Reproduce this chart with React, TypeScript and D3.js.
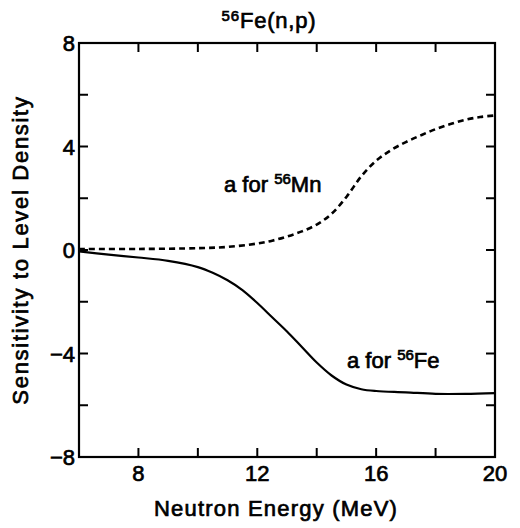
import * as d3 from "d3";

const W = 520, H = 528;
const M = { left: 79, right: 25, top: 43, bottom: 71 };

// a for 56Mn (dashed)
const mnEnergy = [6, 8, 10, 11, 12, 12.5, 13, 13.5, 14, 14.5, 15, 15.5, 16, 16.5, 17, 17.5, 18, 18.5, 19, 19.5, 20];
const mnSens = [0.04, 0.04, 0.07, 0.12, 0.25, 0.36, 0.52, 0.72, 0.98, 1.4, 2.05, 2.85, 3.45, 3.86, 4.17, 4.43, 4.67, 4.87, 5.03, 5.14, 5.2];

// a for 56Fe (solid)
const feEnergy = [6, 7, 8, 9, 10, 10.5, 11, 11.5, 12, 12.5, 13, 13.5, 14, 14.5, 15, 15.5, 16, 17, 18, 19, 20];
const feSens = [-0.05, -0.18, -0.29, -0.42, -0.66, -0.88, -1.17, -1.55, -2.05, -2.6, -3.15, -3.75, -4.35, -4.85, -5.2, -5.38, -5.45, -5.5, -5.56, -5.56, -5.53];

const xTicks = [6, 8, 10, 12, 14, 16, 18, 20];
const xLabels = [8, 12, 16, 20];
const yTicks = [-8, -6, -4, -2, 0, 2, 4, 6, 8];
const yLabels = [-8, -4, 0, 4, 8];

const FONT = "'Liberation Sans', Arial, Helvetica, sans-serif";

export default function App() {
  const x = d3.scaleLinear([6, 20], [M.left, W - M.right]);
  const y = d3.scaleLinear([-8, 8], [H - M.bottom, M.top]);

  const line = d3
    .line<[number, number]>()
    .x((d) => x(d[0]))
    .y((d) => y(d[1]))
    .curve(d3.curveCatmullRom.alpha(0.5));

  const mnPath = line(mnEnergy.map((e, i) => [e, mnSens[i]]))!;
  const fePath = line(feEnergy.map((e, i) => [e, feSens[i]]))!;

  const x0 = x(6), x1 = x(20), y0 = y(-8), y1 = y(8);
  const tickLen = 9;
  const txt = { fontFamily: FONT, fill: "#000", stroke: "#000", strokeWidth: 0.7 };

  return (
    <div style={{ position: "absolute", left: 0, top: 0 }}>
      <svg width={W} height={H} style={{ display: "block", background: "#fff" }}>
        {/* Title */}
        <text x={269} y={28} textAnchor="middle" fontSize={22} letterSpacing={0.8} {...txt}>
          <tspan fontSize={15} dy={-7}>56</tspan>
          <tspan dy={7}>Fe(n,p)</tspan>
        </text>

        {/* Curves */}
        <path d={mnPath} fill="none" stroke="#000" strokeWidth={2.6} strokeDasharray="6 4" />
        <path d={fePath} fill="none" stroke="#000" strokeWidth={2.2} />

        {/* Frame */}
        <rect x={x0} y={y1} width={x1 - x0} height={y0 - y1} fill="none" stroke="#000" strokeWidth={2.2} />

        {/* X ticks (bottom and top, inward) */}
        {xTicks.map((t) => (
          <g key={`x${t}`}>
            <line x1={x(t)} x2={x(t)} y1={y0} y2={y0 - tickLen} stroke="#000" strokeWidth={2} />
            <line x1={x(t)} x2={x(t)} y1={y1} y2={y1 + tickLen} stroke="#000" strokeWidth={2} />
          </g>
        ))}
        {xLabels.map((t) => (
          <text key={`xl${t}`} x={x(t)} y={y0 + 24} textAnchor="middle" fontSize={22} {...txt}>
            {t}
          </text>
        ))}

        {/* Y ticks (left and right, inward) */}
        {yTicks.map((t) => (
          <g key={`y${t}`}>
            <line x1={x0} x2={x0 + tickLen} y1={y(t)} y2={y(t)} stroke="#000" strokeWidth={2} />
            <line x1={x1} x2={x1 - tickLen} y1={y(t)} y2={y(t)} stroke="#000" strokeWidth={2} />
          </g>
        ))}
        {yLabels.map((t) => (
          <text key={`yl${t}`} x={x0 - 4} y={y(t) + 8} textAnchor="end" fontSize={22} {...txt}>
            {t < 0 ? `\u2212${Math.abs(t)}` : t}
          </text>
        ))}

        {/* Axis titles */}
        <text x={276} y={516} textAnchor="middle" fontSize={22} letterSpacing={1.2} {...txt}>
          Neutron Energy (MeV)
        </text>
        <text
          transform={`translate(28, ${(y0 + y1) / 2}) rotate(-90)`}
          textAnchor="middle"
          fontSize={22}
          letterSpacing={1.7}
          {...txt}
        >
          Sensitivity to Level Density
        </text>

        {/* Curve labels */}
        <text x={224} y={192} fontSize={22} {...txt}>
          a for <tspan fontSize={15} dy={-8}>56</tspan>
          <tspan dy={8}>Mn</tspan>
        </text>
        <text x={347} y={368} fontSize={22} {...txt}>
          a for <tspan fontSize={15} dy={-8}>56</tspan>
          <tspan dy={8}>Fe</tspan>
        </text>
      </svg>
    </div>
  );
}
